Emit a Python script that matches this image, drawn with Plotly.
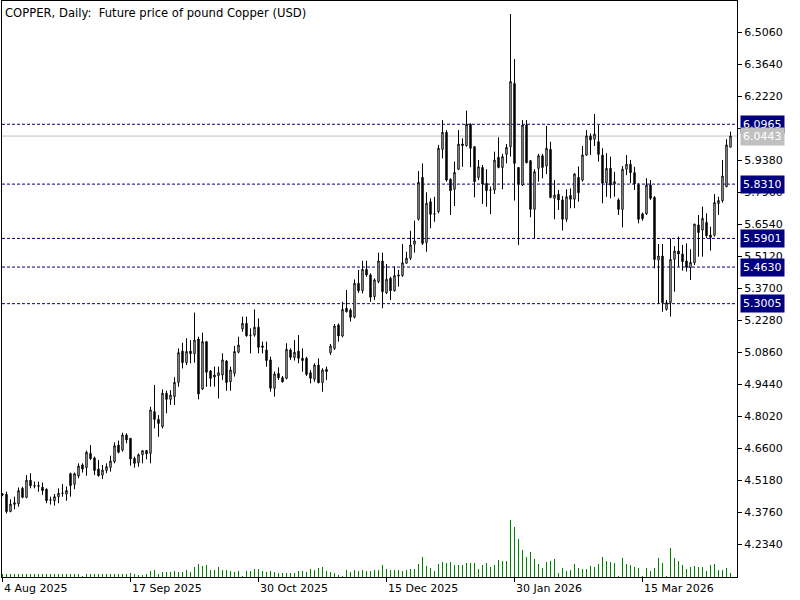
import plotly.graph_objects as go

# ---- data ----
opens = [4.452,4.454,4.378,4.410,4.412,4.481,4.441,4.517,4.493,4.493,4.486,4.477,4.429,4.426,4.444,4.459,4.456,4.546,4.499,4.536,
         4.585,4.573,4.636,4.616,4.567,4.540,4.560,4.574,4.599,4.673,4.651,4.718,4.703,4.614,4.595,4.630,4.649,4.636,4.821,4.787,
         4.755,4.903,4.876,4.888,4.951,5.090,5.039,5.090,5.079,5.144,4.922,5.132,5.002,4.975,4.981,4.984,5.046,4.954,4.991,5.085,
         5.189,5.213,5.161,5.161,5.196,5.113,5.095,5.051,4.925,4.991,4.972,4.969,5.095,5.062,5.090,5.058,5.058,4.994,4.965,5.028,
         4.950,5.009,5.083,5.102,5.206,5.157,5.280,5.272,5.240,5.391,5.358,5.453,5.428,5.332,5.398,5.490,5.349,5.413,5.358,5.428,
         5.425,5.480,5.502,5.564,5.675,5.861,5.572,5.753,5.698,5.709,5.985,6.061,5.852,5.808,5.897,6.009,6.002,6.096,5.997,5.861,
         5.905,5.834,5.805,5.805,5.950,5.905,5.963,5.997,6.278,5.905,5.827,6.093,5.935,5.719,5.901,5.957,5.911,5.985,5.768,5.786,
         5.761,5.675,5.781,5.764,5.861,5.849,5.960,6.045,6.030,6.019,5.960,5.837,5.901,5.831,5.761,5.719,5.897,5.919,5.882,5.827,
         5.699,5.699,5.827,5.772,5.494,5.512,5.275,5.305,5.497,5.534,5.521,5.490,5.460,5.482,5.650,5.627,5.661,5.605,5.604,5.745,
         5.758,5.820,5.995]
highs = [4.460,4.466,4.432,4.444,4.485,4.488,4.540,4.548,4.511,4.511,4.507,4.481,4.444,4.456,4.481,4.500,4.489,4.551,4.551,4.592,
         4.592,4.648,4.673,4.622,4.607,4.585,4.592,4.626,4.685,4.693,4.728,4.725,4.703,4.622,4.636,4.651,4.651,4.843,4.940,4.806,
         4.920,4.914,4.917,4.974,5.102,5.127,5.147,5.139,5.261,5.154,5.172,5.132,5.006,5.021,5.021,5.080,5.051,5.021,5.113,5.154,
         5.243,5.243,5.191,5.275,5.235,5.132,5.132,5.065,4.999,5.018,4.980,5.125,5.102,5.139,5.161,5.102,5.065,5.006,5.036,5.058,
         5.014,5.021,5.122,5.210,5.213,5.309,5.361,5.280,5.408,5.450,5.491,5.491,5.435,5.413,5.527,5.527,5.477,5.420,5.465,5.450,
         5.565,5.531,5.624,5.669,5.889,5.923,5.795,5.768,5.775,6.005,6.115,6.071,5.857,5.931,6.071,6.034,6.157,6.101,5.997,5.938,
         5.916,5.897,5.820,5.975,6.039,5.965,6.009,6.586,6.386,5.905,6.115,6.115,5.938,5.897,5.965,5.965,6.089,6.019,5.849,5.805,
         5.778,5.808,5.812,5.879,5.909,6.000,6.071,6.056,6.142,6.093,5.990,5.968,5.953,5.886,5.768,5.911,5.960,5.938,5.908,5.835,
         5.705,5.857,5.849,5.778,5.565,5.565,5.317,5.590,5.556,5.598,5.561,5.568,5.542,5.654,5.694,5.731,5.701,5.642,5.787,5.775,
         5.938,6.030,6.064]
lows = [4.446,4.370,4.375,4.388,4.400,4.437,4.437,4.481,4.481,4.466,4.452,4.415,4.409,4.404,4.415,4.444,4.426,4.444,4.477,4.526,
        4.551,4.537,4.607,4.540,4.533,4.522,4.548,4.555,4.592,4.636,4.644,4.681,4.582,4.573,4.577,4.592,4.610,4.592,4.747,4.710,
        4.747,4.814,4.851,4.851,4.932,5.013,5.028,5.036,5.039,4.876,4.917,4.932,4.932,4.932,4.880,4.962,4.914,4.914,4.977,5.080,
        5.176,5.154,5.080,5.154,5.080,5.080,5.021,4.910,4.888,4.962,4.950,4.965,5.051,5.048,5.036,4.999,4.980,4.947,4.954,4.947,
        4.910,4.962,5.073,5.095,5.132,5.151,5.261,5.221,5.235,5.349,5.346,5.420,5.309,5.317,5.391,5.280,5.343,5.317,5.354,5.376,
        5.420,5.479,5.494,5.527,5.669,5.561,5.531,5.635,5.664,5.701,5.945,5.842,5.694,5.734,5.894,5.908,5.997,5.906,5.772,5.849,
        5.743,5.731,5.698,5.787,5.901,5.808,5.923,5.953,5.758,5.561,5.823,5.923,5.684,5.590,5.842,5.857,5.876,5.768,5.675,5.716,
        5.625,5.664,5.724,5.724,5.753,5.842,5.956,5.960,6.000,5.931,5.746,5.775,5.768,5.775,5.694,5.639,5.871,5.835,5.805,5.657,
        5.669,5.694,5.761,5.457,5.299,5.265,5.270,5.243,5.354,5.465,5.447,5.443,5.406,5.472,5.509,5.509,5.591,5.536,5.598,5.694,
        5.749,5.817,5.995]
closes = [4.455,4.378,4.411,4.417,4.471,4.441,4.517,4.493,4.492,4.490,4.471,4.426,4.430,4.444,4.459,4.460,4.471,4.493,4.546,4.580,
          4.567,4.641,4.613,4.560,4.537,4.562,4.577,4.602,4.670,4.641,4.718,4.696,4.611,4.592,4.630,4.648,4.634,4.829,4.787,4.769,
          4.903,4.876,4.895,4.951,5.083,5.039,5.088,5.079,5.139,4.900,5.132,4.996,4.969,4.984,4.994,5.051,4.951,5.006,5.088,5.117,
          5.213,5.158,5.160,5.196,5.107,5.107,5.048,4.925,4.988,4.972,4.954,5.098,5.062,5.085,5.058,5.048,4.987,4.969,5.028,4.950,
          5.006,4.999,5.113,5.201,5.157,5.275,5.265,5.240,5.391,5.358,5.453,5.428,5.329,5.406,5.490,5.354,5.409,5.358,5.425,5.423,
          5.482,5.502,5.561,5.579,5.839,5.568,5.746,5.697,5.699,5.990,6.061,5.849,5.802,5.883,6.009,6.002,6.096,5.990,5.842,5.908,
          5.831,5.802,5.804,5.938,5.905,5.953,5.994,6.286,5.923,5.831,6.093,5.926,5.719,5.886,5.957,5.905,5.990,5.772,5.783,5.761,
          5.675,5.775,5.764,5.876,5.793,5.960,6.045,6.027,6.053,5.963,5.835,5.901,5.827,5.842,5.719,5.897,5.919,5.882,5.832,5.675,
          5.678,5.827,5.768,5.497,5.512,5.305,5.305,5.497,5.534,5.521,5.487,5.462,5.484,5.654,5.616,5.679,5.602,5.595,5.749,5.758,
          5.867,6.005,6.0443]
volumes = [2700,2700,2700,2700,2700,2700,3300,2700,2700,2700,2700,2700,3300,2700,3300,2700,2700,3300,2700,2700,
           1000,3300,3300,3300,2700,2700,2700,2700,2700,2700,3300,3300,4000,2700,2000,2000,2700,6000,7000,2700,
           5000,5000,5000,6000,5000,5000,7000,5000,10300,12700,11300,12000,7000,7000,10300,7000,7000,6000,5000,6000,
           500,6000,6000,8000,8000,6000,5000,6000,5000,4000,4000,4000,4000,4000,6000,6000,5000,8000,7000,9000,
           10000,6000,5000,4000,2000,700,7000,5000,7000,6000,7000,6000,6000,7000,7000,12000,8000,7000,7000,7000,
           6000,7000,8000,8000,13000,20000,11000,9000,6000,13000,15000,14000,15000,12000,12000,12000,14000,14000,14000,8000,
           12000,14000,10000,12000,17000,16000,16000,57000,50000,38000,27000,20000,25000,18000,13000,9000,15000,16000,18000,4000,
           9000,6000,7000,13000,9000,8000,8000,11000,10000,13000,20000,16000,15000,14000,400,19000,13000,12000,10000,9000,
           400,9000,6000,9000,19000,14000,400,29000,19000,16000,12000,8000,10000,11000,10000,10000,6000,12000,13000,7000,
           7000,9000,4000]

date_tick_bars = [0, 32, 64, 96, 128, 160]
date_tick_labels = ["4 Aug 2025", "17 Sep 2025", "30 Oct 2025", "15 Dec 2025", "30 Jan 2026", "15 Mar 2026"]

price_ticks = [4.2340, 4.3760, 4.5180, 4.6600, 4.8020, 4.9440, 5.0860, 5.2280, 5.3700,
               5.5120, 5.6540, 5.7960, 5.9380, 6.0800, 6.2220, 6.3640, 6.5060]
level_lines = [6.0965, 5.8310, 5.5901, 5.4630, 5.3005]
last_price = 6.0443
title_text = "COPPER, Daily:\u00a0 Future price of pound Copper (USD)"

# ---- figure ----
n = len(closes)
xs = list(range(n))
FONT = "DejaVu Sans"
NAVY = "#000080"

fig = go.Figure()
fig.add_trace(go.Bar(x=xs, y=volumes, width=0.25, marker=dict(color="#008000", line=dict(width=0)),
                     yaxis="y2", showlegend=False, hoverinfo="skip"))
fig.add_trace(go.Candlestick(
    x=xs, open=opens, high=highs, low=lows, close=closes,
    increasing=dict(line=dict(color="black", width=1), fillcolor="white"),
    decreasing=dict(line=dict(color="black", width=1), fillcolor="black"),
    whiskerwidth=0, showlegend=False))

shapes = []
for lv in level_lines:
    shapes.append(dict(type="line", xref="paper", x0=0, x1=1, yref="y", y0=lv, y1=lv,
                       line=dict(color=NAVY, width=1, dash="3px,2px"), layer="below"))
shapes.append(dict(type="line", xref="paper", x0=0, x1=1, yref="y", y0=last_price, y1=last_price,
                   line=dict(color="#c0c0c0", width=1), layer="below"))

annotations = []
for lv in level_lines:
    annotations.append(dict(x=1, xref="paper", y=lv, yref="y", xanchor="left", yanchor="middle",
                            xshift=3, text=f"{lv:.4f}", showarrow=False, bgcolor=NAVY,
                            font=dict(family=FONT, size=11, color="white"), borderpad=2))
annotations.append(dict(x=1, xref="paper", y=last_price, yref="y", xanchor="left", yanchor="middle",
                        xshift=3, text=f"{last_price:.4f}", showarrow=False, bgcolor="#c0c0c0",
                        font=dict(family=FONT, size=11, color="white"), borderpad=2))
for b, lab in zip(date_tick_bars, date_tick_labels):
    annotations.append(dict(x=b, xref="x", y=0, yref="paper", xanchor="left", yanchor="top",
                            xshift=-1, yshift=-3, text=lab, showarrow=False,
                            font=dict(family=FONT, size=11, color="black")))
annotations.append(dict(x=0, xref="paper", y=1, yref="paper", xanchor="left", yanchor="top",
                        xshift=1, yshift=-3, text=title_text, showarrow=False,
                        font=dict(family=FONT, size=11.6, color="black")))

fig.update_layout(
    width=800, height=600,
    margin=dict(l=2, r=63, t=1, b=23, autoexpand=False),
    paper_bgcolor="white", plot_bgcolor="white",
    boxgap=0.5,
    bargap=0,
    xaxis=dict(range=[-0.125, 183.625], rangeslider=dict(visible=False), showgrid=False, zeroline=False,
               showline=True, linecolor="black", linewidth=1, mirror=True,
               tickmode="array", tickvals=date_tick_bars, ticks="outside", ticklen=4,
               tickcolor="black", showticklabels=False),
    yaxis=dict(range=[4.0876, 6.6436], side="right", showgrid=False, zeroline=False,
               showline=True, linecolor="black", linewidth=1, mirror=True,
               tickmode="array", tickvals=price_ticks, ticktext=[f"{t:.4f}" for t in price_ticks],
               ticks="outside", ticklen=4, tickcolor="black",
               tickfont=dict(family=FONT, size=11, color="black")),
    yaxis2=dict(range=[0, 576000], overlaying="y", visible=False, fixedrange=True),
    shapes=shapes, annotations=annotations,
)

fig.write_html("out.html", config={"displayModeBar": False},
               post_script="document.body.style.margin='0';")
